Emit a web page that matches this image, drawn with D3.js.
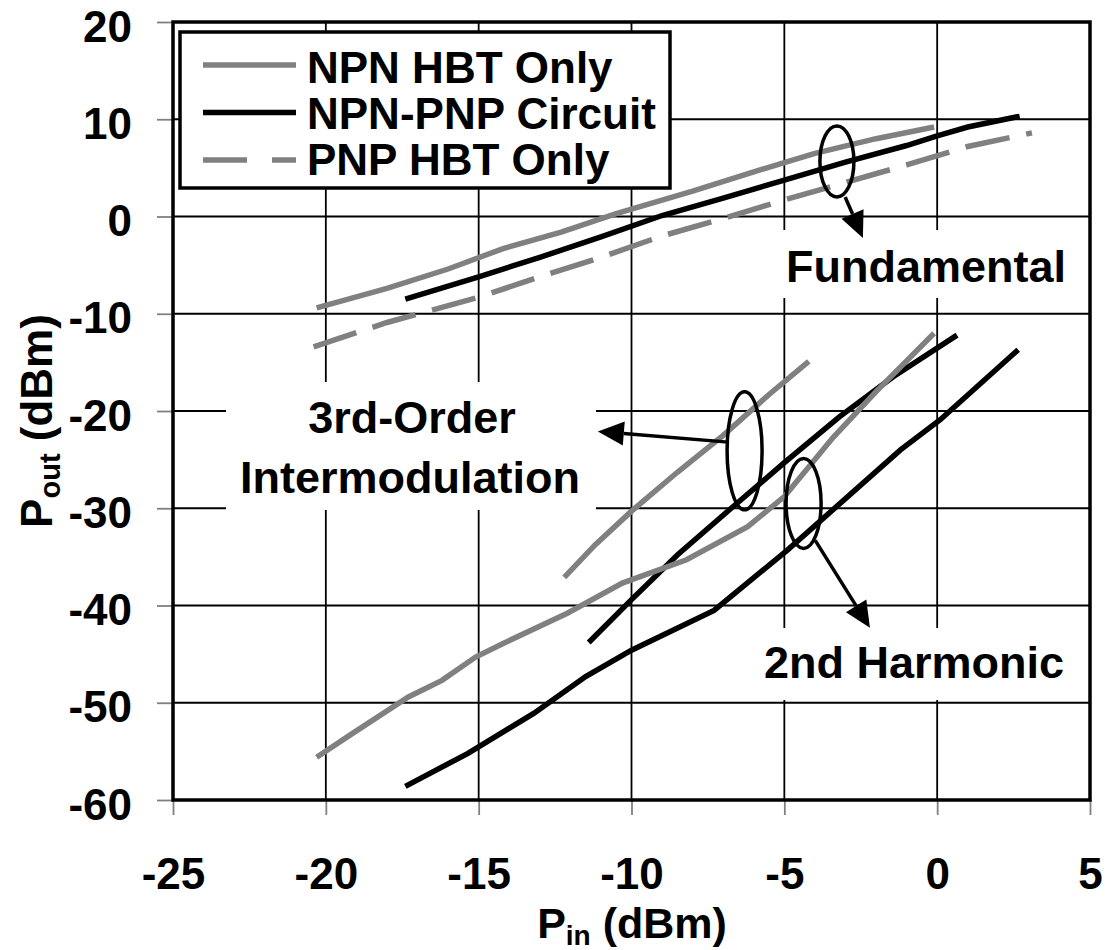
<!DOCTYPE html>
<html>
<head>
<meta charset="utf-8">
<script src="https://cdn.jsdelivr.net/npm/d3@7"></script>
<style>
  html, body { margin: 0; padding: 0; background: #fff; }
  svg { display: block; }
  text { font-family: "Liberation Sans", Arial, Helvetica, sans-serif; font-weight: bold; fill: #000; }
</style>
</head>
<body>
<svg id="chart" width="1110" height="950"></svg>
<script>
// ---------- data ----------
const xTicks = [-25, -20, -15, -10, -5, 0, 5];
const yTicks = [20, 10, 0, -10, -20, -30, -40, -50, -60];

// Fundamental
const fundNpnX = [-20.3, -18, -16, -14.2, -12.3, -10.5, -8, -6, -4, -2, -0.1];
const fundNpnY = [-9.4, -7.4, -5.4, -3.3, -1.6, 0.3, 2.6, 4.6, 6.5, 8.0, 9.2];
const fundCktX = [-17.4, -15, -13, -11, -9, -7, -5, -3, -1, 0, 1, 2.7];
const fundCktY = [-8.5, -6.2, -4.2, -2.1, 0.1, 1.9, 3.75, 5.6, 7.3, 8.3, 9.2, 10.3];
const fundPnpX = [-20.4, -18, -15, -13, -11, -9, -7, -5, -3, -1, 1, 3.1];
const fundPnpY = [-13.4, -10.9, -8.3, -6.2, -4.2, -2.0, -0.2, 1.7, 3.5, 5.3, 7.2, 8.6];

// 3rd-order intermodulation
const im3NpnX = [-12.2, -11.2, -10, -8.5, -7, -5.5, -4.2];
const im3NpnY = [-37.1, -33.8, -30.3, -26.3, -22.5, -18.3, -14.9];
const im3CktX = [-11.4, -10, -8.5, -6.7, -5, -3.2, -1.45, 0.65];
const im3CktY = [-43.8, -39.4, -34.8, -29.9, -25.3, -20.6, -16.5, -12.2];

// 2nd harmonic
const h2NpnX = [-20.3, -19.2, -17.3, -16.2, -15.1, -14.2, -12.1, -10.3, -8.2, -6.2, -5.0, -3.4, -2.0, -0.1];
const h2NpnY = [-55.6, -53.3, -49.4, -47.7, -45.3, -43.9, -40.8, -37.7, -35.3, -31.9, -28.8, -22.7, -18.0, -12.0];
const h2CktX = [-17.4, -15.35, -13.2, -11.5, -10, -7.3, -4.9, -1.2, 0.1, 2.65];
const h2CktY = [-58.6, -55.2, -51.1, -47.3, -44.6, -40.5, -34.3, -24.0, -20.9, -13.7];

const legendLabels = ["NPN HBT Only", "NPN-PNP Circuit", "PNP HBT Only"];

// annotations (data units): ellipse centre, arrow start, arrow tip
const annoEllipseX = [-3.28, -6.30, -4.37];
const annoEllipseY = [5.66, -24.1, -29.5];
const annoArrowFromX = [-3.01, -6.84, -3.99];
const annoArrowFromY = [2.0, -23.2, -33.3];
const annoArrowToX = [-2.43, -11.1, -2.2];
const annoArrowToY = [-2.2, -22.1, -42.3];

// ---------- layout ----------
const GRAY = "#808080";
const svg = d3.select("#chart");
const L = 173, R = 1090, T = 22, B = 800;
const x = d3.scaleLinear().domain([-25, 5]).range([L, R]);
const y = d3.scaleLinear().domain([20, -60]).range([T, B]);
const fmt = d => String(d);

// grid
const grid = svg.append("g");
grid.selectAll("line.v").data(xTicks).join("line")
  .attr("x1", d => x(d)).attr("x2", d => x(d)).attr("y1", T).attr("y2", B)
  .attr("stroke", "#000").attr("stroke-width", 1.8);
grid.selectAll("line.h").data(yTicks).join("line")
  .attr("x1", L).attr("x2", R).attr("y1", d => y(d)).attr("y2", d => y(d))
  .attr("stroke", "#000").attr("stroke-width", 1.8);

// axes
const yAxis = d3.axisLeft(y).tickValues(yTicks).tickSize(16).tickPadding(25).tickFormat(fmt);
const gy = svg.append("g").attr("transform", `translate(${L},0)`).call(yAxis);
gy.select(".domain").remove();
gy.selectAll(".tick line").attr("stroke", GRAY).attr("stroke-width", 1.8);
gy.selectAll(".tick text").attr("dy", 19).style("font-size", "44px").attr("fill", "#000");

const xAxis = d3.axisBottom(x).tickValues(xTicks).tickSize(15).tickFormat(fmt);
const gx = svg.append("g").attr("transform", `translate(0,${B})`).call(xAxis);
gx.select(".domain").remove();
gx.selectAll(".tick line").attr("stroke", GRAY).attr("stroke-width", 1.8);
gx.selectAll(".tick text").attr("y", 89).attr("dy", 0).style("font-size", "44px").attr("fill", "#000");
gy.attr("font-family", null).attr("font-size", null);
gx.attr("font-family", null).attr("font-size", null);

// white label backgrounds (hide grid)
const bgs = [[700, 230, 385, 68], [226, 382, 370, 128], [745, 628, 340, 72]];
svg.append("g").selectAll("rect").data(bgs).join("rect")
  .attr("x", d => d[0]).attr("y", d => d[1]).attr("width", d => d[2]).attr("height", d => d[3])
  .attr("fill", "#fff");

// frame
svg.append("rect").attr("x", L).attr("y", T).attr("width", R - L).attr("height", B - T)
  .attr("fill", "none").attr("stroke", "#000").attr("stroke-width", 3.5);

// data lines
const line = d3.line().x(d => x(d[0])).y(d => y(d[1]));
const zipXY = (xs, ys) => xs.map((v, i) => [v, ys[i]]);
const series = [
  { xs: fundNpnX, ys: fundNpnY, color: GRAY, dash: null },
  { xs: fundCktX, ys: fundCktY, color: "#000", dash: null },
  { xs: fundPnpX, ys: fundPnpY, color: GRAY, dash: "45,17" },
  { xs: im3NpnX, ys: im3NpnY, color: GRAY, dash: null },
  { xs: im3CktX, ys: im3CktY, color: "#000", dash: null },
  { xs: h2NpnX, ys: h2NpnY, color: GRAY, dash: null },
  { xs: h2CktX, ys: h2CktY, color: "#000", dash: null },
];
svg.append("g").selectAll("path").data(series).join("path")
  .attr("d", s => line(zipXY(s.xs, s.ys)))
  .attr("fill", "none").attr("stroke", s => s.color).attr("stroke-width", 5.5)
  .attr("stroke-dasharray", s => s.dash);

// annotations: ellipses + arrows
const ellR = [[17, 35.5], [17.5, 59], [17.5, 45]];
const ag = svg.append("g");
annoEllipseX.forEach((ex, i) => {
  ag.append("ellipse").attr("cx", x(ex)).attr("cy", y(annoEllipseY[i]))
    .attr("rx", ellR[i][0]).attr("ry", ellR[i][1])
    .attr("fill", "none").attr("stroke", "#000").attr("stroke-width", 3.5);
  const x1 = x(annoArrowFromX[i]), y1 = y(annoArrowFromY[i]);
  const x2 = x(annoArrowToX[i]), y2 = y(annoArrowToY[i]);
  const ang = Math.atan2(y2 - y1, x2 - x1);
  const hl = 26, hw = 12;
  const bx = x2 - hl * Math.cos(ang), by = y2 - hl * Math.sin(ang);
  ag.append("line").attr("x1", x1).attr("y1", y1).attr("x2", bx).attr("y2", by)
    .attr("stroke", "#000").attr("stroke-width", 3.5);
  const p = [[x2, y2],
    [bx + hw * Math.sin(ang), by - hw * Math.cos(ang)],
    [bx - hw * Math.sin(ang), by + hw * Math.cos(ang)]];
  ag.append("polygon").attr("points", p.map(q => q.join(",")).join(" ")).attr("fill", "#000");
});

// annotation labels
const labels = [["Fundamental", 926, 282], ["3rd-Order", 412, 433], ["Intermodulation", 410, 493], ["2nd Harmonic", 914, 678]];
svg.append("g").selectAll("text").data(labels).join("text")
  .attr("x", d => d[1]).attr("y", d => d[2]).attr("text-anchor", "middle")
  .style("font-size", "45px").text(d => d[0]);

// legend
const lg = svg.append("g");
lg.append("rect").attr("x", 180).attr("y", 32).attr("width", 490).attr("height", 156)
  .attr("fill", "#fff").attr("stroke", "#000").attr("stroke-width", 3.5);
const legColors = [GRAY, "#000", GRAY];
const legDash = [null, null, "44,25"];
legendLabels.forEach((lab, i) => {
  const ly = 65 + i * 47.5;
  lg.append("line").attr("x1", 203).attr("x2", 296).attr("y1", ly).attr("y2", ly)
    .attr("stroke", legColors[i]).attr("stroke-width", 5.5).attr("stroke-dasharray", legDash[i]);
  lg.append("text").attr("x", 307).attr("y", 83 + i * 46).style("font-size", "44px").text(lab);
});

// axis titles
const xt = svg.append("text").attr("x", 632).attr("y", 938).attr("text-anchor", "middle").style("font-size", "43px");
xt.append("tspan").text("P");
xt.append("tspan").attr("dy", 7).style("font-size", "28px").text("in");
xt.append("tspan").attr("dy", -7).text(" (dBm)");

const yt = svg.append("text").attr("transform", "translate(52,421) rotate(-90)").attr("text-anchor", "middle").style("font-size", "44px");
yt.append("tspan").text("P");
yt.append("tspan").attr("dy", 8).style("font-size", "29px").text("out");
yt.append("tspan").attr("dy", -8).text(" (dBm)");
</script>
</body>
</html>
